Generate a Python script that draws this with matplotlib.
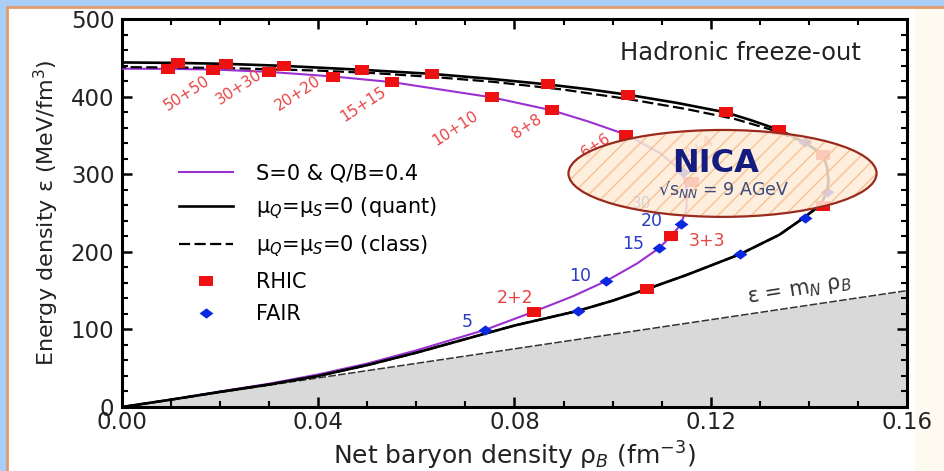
import matplotlib.pyplot as plt
from matplotlib.patches import Ellipse, Rectangle
from matplotlib.ticker import MultipleLocator

# S=0 & Q/B=0.4 freeze-out trajectory (purple)
sq_x = [0.0, 0.01, 0.02, 0.03, 0.04, 0.05, 0.06, 0.074, 0.084, 0.092, 0.0987, 0.105,
        0.1094, 0.112, 0.1139, 0.115, 0.1152, 0.1143, 0.1097, 0.1028, 0.095, 0.0877,
        0.0755, 0.0551, 0.0431, 0.0299, 0.0186, 0.0094, 0.0]
sq_y = [0, 9.5, 20, 30, 42, 56, 73, 99.4, 123, 143, 162.4, 185,
        204.4, 220.6, 235.2, 255, 275, 303, 327, 350.9, 368, 382.2,
        398.9, 418.6, 425.9, 431.9, 434.9, 435.7, 436]

# mu_Q = mu_S = 0, quantum statistics (solid black)
quant_x = [0.0, 0.01, 0.02, 0.03, 0.04, 0.05, 0.06, 0.0737, 0.08, 0.093, 0.1, 0.107,
           0.115, 0.126, 0.134, 0.139, 0.1423, 0.1437, 0.144, 0.1437, 0.1429, 0.1392,
           0.134, 0.128, 0.1231, 0.113, 0.1032, 0.095, 0.0869, 0.075, 0.0631, 0.0489,
           0.033, 0.0211, 0.0114, 0.0]
quant_y = [0, 9.5, 19.5, 29, 40, 54, 70, 94, 105, 124, 137, 152,
           170, 197, 222, 244, 260, 277, 292, 309, 325, 341,
           357, 370, 379.6, 392, 402.3, 409.5, 415.6, 423, 429.3, 434.5,
           439.6, 442.2, 443.4, 444]

# mu_Q = mu_S = 0, classical statistics (dashed black)
class_x = [0.0, 0.01, 0.02, 0.03, 0.04, 0.05, 0.06, 0.0737, 0.08, 0.093, 0.1, 0.107,
           0.115, 0.126, 0.134, 0.139, 0.1423, 0.1437, 0.144, 0.1437, 0.1429, 0.1392,
           0.132, 0.125, 0.115, 0.103, 0.09, 0.0757, 0.064, 0.052, 0.04, 0.02, 0.0]
class_y = [0, 9.5, 19.5, 29, 40, 54, 70, 94, 105, 124, 137, 152,
           170, 197, 222, 244, 260, 277, 292, 309, 325, 341,
           358, 371, 384, 397, 409, 419, 425, 430, 433.5, 437, 438]

# RHIC points
rhic_x = [0.0114, 0.0211, 0.033, 0.0489, 0.0631, 0.0869, 0.1032, 0.1231, 0.134,
          0.0094, 0.0186, 0.0299, 0.0431, 0.0551, 0.0755, 0.0877, 0.1028,
          0.1162, 0.112, 0.084, 0.1071, 0.1429, 0.1429]
rhic_y = [443.4, 442.2, 439.6, 434.5, 429.3, 415.6, 402.3, 379.6, 357.3,
          435.7, 434.9, 431.9, 425.9, 418.6, 398.9, 382.2, 350.9,
          290, 220.6, 123, 152.1, 259, 325]

# FAIR points
fair_x = [0.074, 0.0987, 0.1094, 0.1139, 0.1143, 0.093, 0.126, 0.1392, 0.1437, 0.1392]
fair_y = [99.4, 162.4, 204.4, 235.2, 303, 123.8, 197.1, 244.2, 277, 341]

# epsilon = m_N rho_B
nuc_x = [0.0, 0.16]
nuc_y = [0.0, 150.0]

# collision energy labels
rhic_lab = ["50+50", "30+30", "20+20", "15+15", "10+10", "8+8", "6+6"]
rhic_lab_x = [0.0132, 0.0238, 0.0358, 0.0492, 0.068, 0.0825, 0.0966]
rhic_lab_y = [404, 412, 404, 390, 359.5, 362, 337.6]
low_lab = ["3+3", "2+2"]
low_lab_x = [0.1192, 0.0801]
low_lab_y = [214, 140]
fair_lab = ["5", "10", "15", "20"]
fair_lab_x = [0.0703, 0.0934, 0.1042, 0.108]
fair_lab_y = [109.5, 168.8, 210, 239.7]

sq_marker = [(-1.3, -1), (1.3, -1), (1.3, 1), (-1.3, 1), (-1.3, -1)]
dia_marker = [(-1.35, 0), (0, 1), (1.35, 0), (0, -1), (-1.35, 0)]

fig = plt.figure(figsize=(9.44, 4.71), dpi=100)
fig.patch.set_facecolor("#a9cff7")
fig.add_artist(Rectangle((7 / 944, -0.1), 1.2, 1.1 - 7 / 471, transform=fig.transFigure,
                         facecolor="white", edgecolor="#e39a6a", lw=2, zorder=-10))
fig.add_artist(Rectangle((915 / 944, -0.1), 1, 1.1 - 9 / 471, transform=fig.transFigure,
                         facecolor="#fffaf0", edgecolor="none", zorder=-9))

ax = fig.add_axes([122 / 944, 1 - 407 / 471, 785 / 944, 388 / 471])

ax.fill_between(nuc_x, nuc_y, 0, color="#d9d9d9", lw=0, zorder=1)
ax.plot(nuc_x, nuc_y, color="#333333", lw=1.1, dashes=(5, 1.5), zorder=2)

l1, = ax.plot(sq_x, sq_y, color="#9a30d0", lw=1.5, zorder=3, label="S=0 & Q/B=0.4")
l2, = ax.plot(quant_x, quant_y, color="black", lw=1.9, zorder=3,
              label=r"μ$_Q$=μ$_S$=0 (quant)")
l3, = ax.plot(class_x, class_y, color="black", lw=1.6, dashes=(5, 2), zorder=3,
              label=r"μ$_Q$=μ$_S$=0 (class)")
l4, = ax.plot(rhic_x, rhic_y, ls="none", marker=sq_marker, ms=10, color="#ee1111",
              mew=0, zorder=4, label="RHIC")
l5, = ax.plot(fair_x, fair_y, ls="none", marker=dia_marker, ms=10, color="#0a28e0",
              mew=0, zorder=4, label="FAIR")

for t, x, y in zip(rhic_lab, rhic_lab_x, rhic_lab_y):
    ax.text(x, y, t, color="#e84545", fontsize=11, rotation=33,
            ha="center", va="center", zorder=5)
for t, x, y in zip(low_lab, low_lab_x, low_lab_y):
    ax.text(x, y, t, color="#e84545", fontsize=12.5, ha="center", va="center", zorder=5)
for t, x, y in zip(fair_lab, fair_lab_x, fair_lab_y):
    ax.text(x, y, t, color="#2a3cc8", fontsize=12.5, ha="center", va="center", zorder=5)
# faded labels under the NICA ellipse
ax.text(0.1175, 334, "4+4", color="#e84545", fontsize=11, rotation=30,
        ha="center", va="center", zorder=5)
ax.text(0.1058, 262, "30", color="#2a3cc8", fontsize=11, ha="center", va="center", zorder=5)

ax.add_patch(Ellipse((0.1224, 301), 0.0628, 112, facecolor="#fdebd8", alpha=0.85,
                     edgecolor="#f6bb8c", hatch="//", lw=0, zorder=6))
ax.add_patch(Ellipse((0.1224, 301), 0.0628, 112, facecolor="none",
                     edgecolor="#9a2a1c", lw=1.6, zorder=7))
ax.text(0.1209, 314.4, "NICA", color="#141c80", fontsize=23, fontweight="bold",
        ha="center", va="center", zorder=8)
ax.text(0.1225, 280, "√s$_{NN}$ = 9 AGeV", color="#3a4a7a", fontsize=12.5,
        ha="center", va="center", zorder=8)

ax.text(0.1506, 456.8, "Hadronic freeze-out", fontsize=17.5, ha="right", va="center",
        color="#222222")
ax.text(0.138, 150, r"ε = m$_N$ ρ$_B$", fontsize=15, rotation=9, ha="center",
        va="center", color="#333333", zorder=5)

ax.set_xlim(0, 0.16)
ax.set_ylim(0, 500)
ax.xaxis.set_major_locator(MultipleLocator(0.04))
ax.xaxis.set_minor_locator(MultipleLocator(0.01))
ax.yaxis.set_major_locator(MultipleLocator(100))
ax.yaxis.set_minor_locator(MultipleLocator(20))
ax.xaxis.set_major_formatter(lambda v, p: f"{v:.2f}")
ax.tick_params(which="both", direction="in", top=True, right=True, labelsize=16.5,
               colors="black", labelcolor="#222222")
ax.tick_params(which="major", length=7.5, width=1.8)
ax.tick_params(which="minor", length=4, width=1.5)
ax.tick_params(axis="y", pad=5.5)
ax.tick_params(axis="x", pad=3)
for s in ax.spines.values():
    s.set_linewidth(2.2)

ax.set_xlabel(r"Net baryon density ρ$_B$ (fm$^{-3}$)", fontsize=18, color="#222222",
              labelpad=4)
ax.set_ylabel(r"Energy density ε (MeV/fm$^3$)", fontsize=16, color="#222222",
              labelpad=7)

ax.legend(handles=[l1, l2, l3, l4, l5], loc="upper left", bbox_to_anchor=(0.0726, 0.628),
          frameon=False, fontsize=15, handlelength=2.6, handletextpad=1.1,
          labelspacing=0.6, borderaxespad=0, borderpad=0, numpoints=1)

fig.savefig("out.png", dpi=100, facecolor=fig.get_facecolor())
